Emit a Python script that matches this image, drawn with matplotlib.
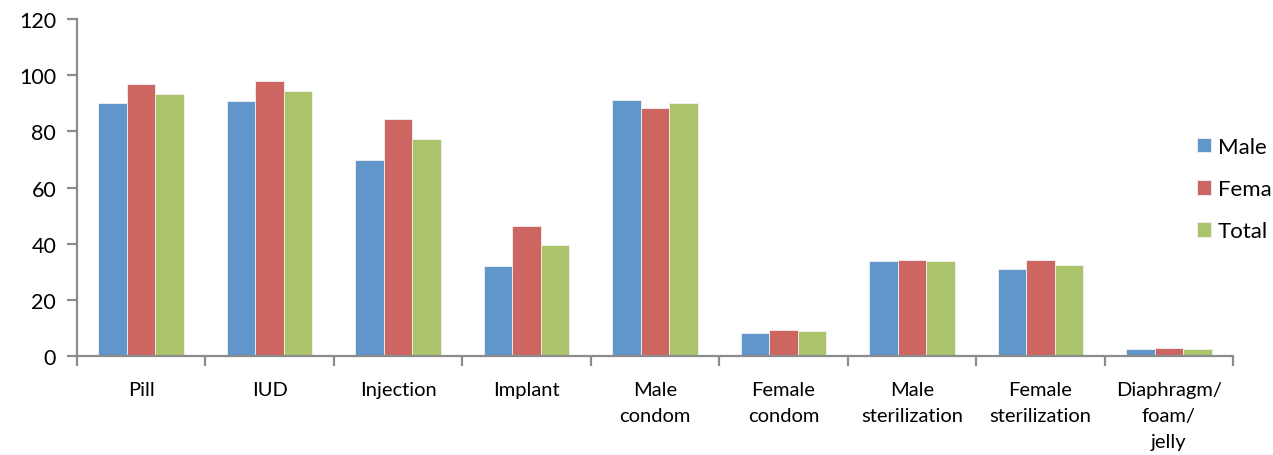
import matplotlib; matplotlib.use('Agg')
import matplotlib.pyplot as plt
import numpy as np

plt.rcParams.update({
    'font.family': ['Lato', 'DejaVu Sans'],
})

methods = ['Pill', 'IUD', 'Injection', 'Implant', 'Male\ncondom', 'Female\ncondom',
           'Male\nsterilization', 'Female\nsterilization', 'Diaphragm/\nfoam/\njelly']
male = [90.0, 90.8, 69.7, 31.9, 91.2, 8.3, 33.8, 30.9, 2.6]
female = [96.8, 97.9, 84.3, 46.4, 88.4, 9.3, 34.2, 34.2, 3.0]
total = [93.3, 94.3, 77.2, 39.5, 90.0, 8.8, 33.8, 32.5, 2.6]
series = ['Male', 'Female', 'Total']
colors = ['#6096c9', '#cd6660', '#abc46c']

fig = plt.figure(figsize=(12.73, 4.56), dpi=100)
ax = fig.add_axes([0.0605, 0.2171, 0.9081, 0.739])

x = np.arange(len(methods))
w = 0.222
for i, (vals, name, c) in enumerate(zip([male, female, total], series, colors)):
    ax.bar(x + (i - 1) * w, vals, w, color=c, edgecolor='#f2f2f2', linewidth=0.6,
           label=name, zorder=2)

axis_grey = '#8c8c8c'
ax.set_xlim(-0.5, len(methods) - 0.5)
ax.set_ylim(0, 120)
ax.set_yticks(np.arange(0, 121, 20))
ax.set_xticks(x)
ax.set_xticklabels(methods, fontsize=14.5, linespacing=1.65)
ax.set_xticks(np.arange(-0.5, len(methods), 1), minor=True)
ax.tick_params(axis='x', which='major', length=0, pad=18)
ax.tick_params(axis='x', which='minor', length=7, width=1.6, color=axis_grey, direction='out')
ax.tick_params(axis='y', length=7, width=1.6, color=axis_grey, labelsize=15.5, pad=8)

for s in ['top', 'right']:
    ax.spines[s].set_visible(False)
for s in ['left', 'bottom']:
    ax.spines[s].set_color(axis_grey)
    ax.spines[s].set_linewidth(1.6)

# legend sits against the right edge; the long label runs off the canvas
ax.legend(loc='center left', bbox_to_anchor=(1197 / 1273, 1 - 190 / 456),
          bbox_transform=fig.transFigure, frameon=False, fontsize=16,
          handlelength=0.65, handleheight=0.65, handletextpad=0.3, labelspacing=1.0,
          borderaxespad=0, borderpad=0)

fig.savefig('out.png', dpi=100)
plt.close()
